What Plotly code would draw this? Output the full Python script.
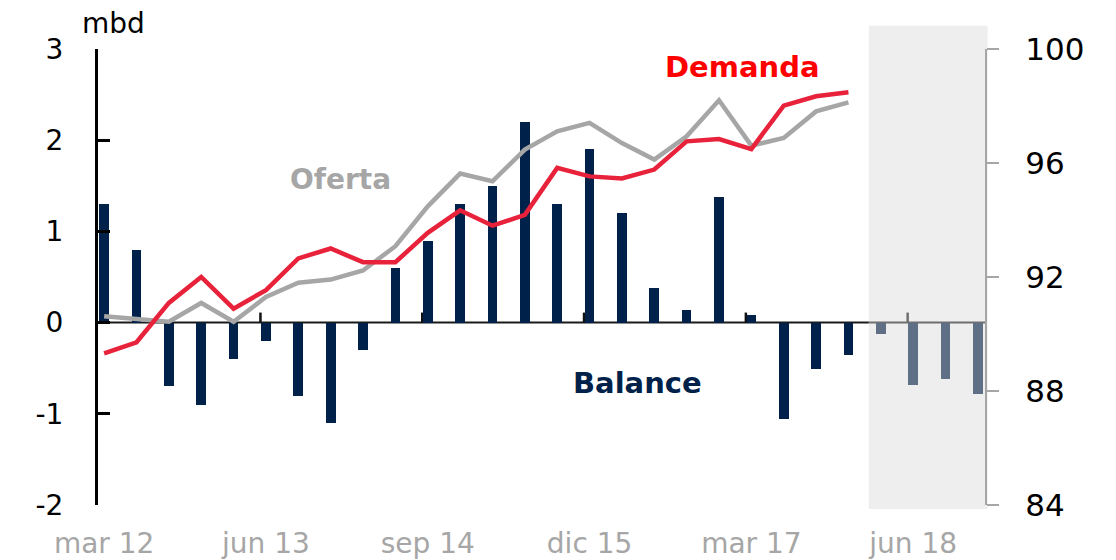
import plotly.graph_objects as go

quarters = ["mar 12", "jun 12", "sep 12", "dic 12", "mar 13", "jun 13", "sep 13", "dic 13",
            "mar 14", "jun 14", "sep 14", "dic 14", "mar 15", "jun 15", "sep 15", "dic 15",
            "mar 16", "jun 16", "sep 16", "dic 16", "mar 17", "jun 17", "sep 17", "dic 17",
            "mar 18", "jun 18", "sep 18", "dic 18"]
balance = [1.30, 0.80, -0.70, -0.90, -0.40, -0.20, -0.80, -1.10,
           -0.30, 0.60, 0.90, 1.30, 1.50, 2.20, 1.30, 1.90,
           1.20, 0.38, 0.14, 1.38, 0.08, -1.06, -0.51, -0.36,
           -0.12, -0.68, -0.62, -0.78]
demanda = [89.32, 89.71, 91.09, 92.00, 90.89, 91.54, 92.65, 93.00,
           92.52, 92.52, 93.55, 94.34, 93.80, 94.18, 95.83, 95.53,
           95.46, 95.77, 96.76, 96.84, 96.49, 98.01, 98.34, 98.48]
oferta = [90.62, 90.51, 90.43, 91.09, 90.43, 91.30, 91.80, 91.91,
          92.23, 93.08, 94.48, 95.63, 95.36, 96.47, 97.11, 97.41,
          96.70, 96.12, 96.94, 98.20, 96.61, 96.88, 97.81, 98.13]
tick_idx = [0, 5, 10, 15, 20, 25]
tick_text = ["mar 12", "jun 13", "sep 14", "dic 15", "mar 17", "jun 18"]
left_ticks = [-2, -1, 0, 1, 2, 3]
left_text = ["-2", "-1", "0", "1", "2", "3"]
right_ticks = [84, 88, 92, 96, 100]
n_hist = len(demanda)

NAVY = "#00224a"
NAVY_F = "#5e6f86"
RED = "#e8223a"
GREY = "#a6a6a6"
FONT = "DejaVu Sans"

x = list(range(len(quarters)))
xmin, xmax = -0.19, len(quarters) - 1 + 0.22

fig = go.Figure()
fig.add_trace(go.Bar(
    x=x, y=balance, width=0.3,
    marker=dict(color=[NAVY if i < n_hist else NAVY_F for i in x], line=dict(width=0)),
    yaxis="y", showlegend=False, hoverinfo="skip"))
fig.add_trace(go.Scatter(
    x=x[:n_hist], y=oferta, mode="lines", line=dict(color=GREY, width=4.5),
    yaxis="y2", showlegend=False))
fig.add_trace(go.Scatter(
    x=x[:n_hist], y=demanda, mode="lines", line=dict(color=RED, width=4.5),
    yaxis="y2", showlegend=False))

# forecast shading
shade_x = n_hist - 0.37
px0 = (shade_x - xmin) / (xmax - xmin)
shapes = [
    dict(type="rect", xref="paper", yref="paper", x0=px0, x1=1.003, y0=-0.009, y1=1.051,
         fillcolor="#eeeeee", line=dict(width=0), layer="below"),
    dict(type="line", xref="paper", yref="y", x0=0, x1=px0, y0=0, y1=0,
         line=dict(color="#1a1a1a", width=2), layer="below"),
    dict(type="line", xref="paper", yref="y", x0=px0, x1=1, y0=0, y1=0,
         line=dict(color="#6f6f6f", width=2), layer="below"),
]
for i in tick_idx[1:]:
    shapes.append(dict(type="line", xref="x", yref="y", x0=i - 0.17, x1=i - 0.17, y0=0, y1=0.11,
                       line=dict(color="#111111" if i < n_hist else "#6f6f6f", width=2.5),
                       layer="below"))

fig.update_layout(
    template="none",
    width=1108, height=552,
    margin=dict(l=90, r=131, t=41, b=55, autoexpand=False),
    paper_bgcolor="white", plot_bgcolor="rgba(0,0,0,0)",
    bargap=0,
    shapes=shapes,
    xaxis=dict(range=[xmin, xmax], tickvals=tick_idx, ticktext=tick_text, automargin=False,
               showline=False, showgrid=False, zeroline=False, ticks="",
               tickfont=dict(family=FONT, size=28, color=GREY), ticklabelstandoff=19),
    yaxis=dict(range=[-2, 3], tickvals=left_ticks, ticktext=left_text, automargin=False,
               showgrid=False, zeroline=False,
               showline=True, linecolor="black", linewidth=3,
               ticks="inside", ticklen=12, tickwidth=2.5, tickcolor="black",
               tickfont=dict(family=FONT, size=28, color="black"), ticklabelstandoff=26),
    yaxis2=dict(range=[84, 100], tickvals=right_ticks, overlaying="y", side="right", automargin=False,
                showgrid=False, zeroline=False, showline=True, linecolor=GREY, linewidth=2,
                ticks="outside", ticklen=12, tickwidth=2, tickcolor=GREY,
                tickfont=dict(family=FONT, size=31, color="black"), ticklabelstandoff=20),
    annotations=[
        dict(text="<b>Demanda</b>", x=19.74, y=99.38, xref="x", yref="y2", showarrow=False,
             xanchor="center", yanchor="middle",
             font=dict(family=FONT, size=29, color="#ff0000")),
        dict(text="<b>Oferta</b>", x=7.29, y=95.42, xref="x", yref="y2", showarrow=False,
             xanchor="center", yanchor="middle",
             font=dict(family=FONT, size=28, color=GREY)),
        dict(text="<b>Balance</b>", x=16.47, y=-0.66, xref="x", yref="y", showarrow=False,
             xanchor="center", yanchor="middle",
             font=dict(family=FONT, size=29, color=NAVY)),
        dict(text="mbd", x=0.018, y=1.055, xref="paper", yref="paper", showarrow=False,
             xanchor="center", yanchor="middle",
             font=dict(family=FONT, size=28, color="black")),
    ],
)

fig.write_html("out.html")
